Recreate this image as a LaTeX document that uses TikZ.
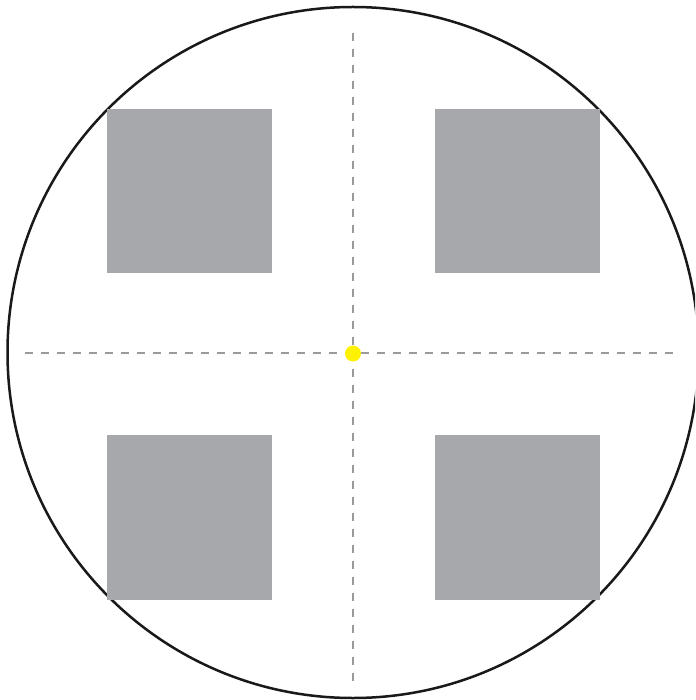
\documentclass[tikz,border=0pt]{standalone}
\definecolor{boxgray}{HTML}{A7A8AB}
\definecolor{dashgray}{HTML}{9A9A9A}
\definecolor{dotyellow}{HTML}{FFF200}
\begin{document}
\begin{tikzpicture}[x=1pt,y=-1pt,
  block/.style={fill=boxgray,draw=none},
  axis/.style={draw=dashgray,line width=1.3pt,dash pattern=on 8pt off 8pt},
  rim/.style={draw=black!90,line width=2.5pt}]
\useasboundingbox (0,0) rectangle (695,700);
\clip (0,0) rectangle (695,700);
\fill[white] (0,0) rectangle (695,700);
\coordinate (c) at (353,352.5);
\draw[rim] (c) circle[radius=345.5];
\fill[block] (107,109) rectangle (272,273);
\fill[block] (435,109) rectangle (600,273);
\fill[block] (107,435) rectangle (272,600);
\fill[block] (435,435) rectangle (600,600);
\coordinate (vt) at (353,33);
\coordinate (vb) at (353,684);
\coordinate (hl) at (25,353);
\coordinate (hr) at (675,353);
\draw[axis] (vt) -- (vb);
\draw[axis] (hl) -- (hr);
\node[circle,fill=dotyellow,minimum size=16pt,inner sep=0pt] (dot) at (353,353.5) {};
\end{tikzpicture}
\end{document}
